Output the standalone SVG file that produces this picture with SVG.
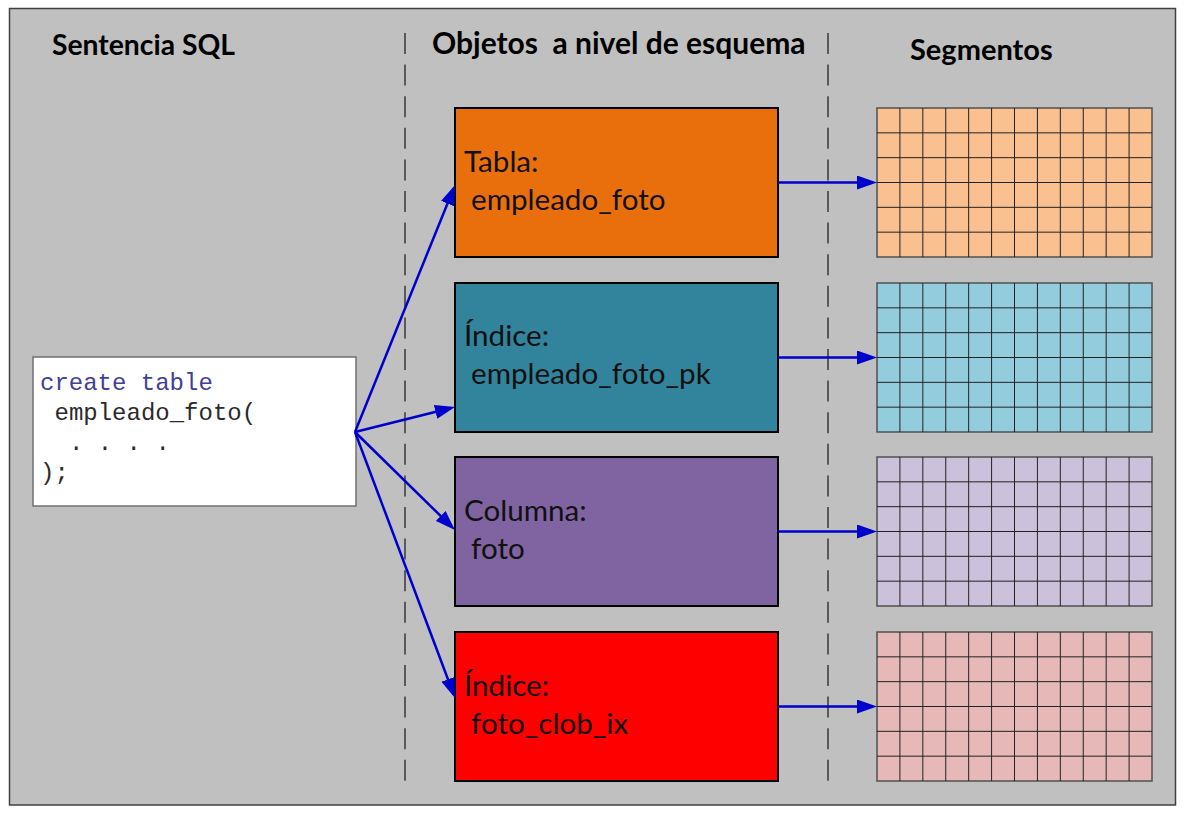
<svg xmlns="http://www.w3.org/2000/svg" xmlns:xlink="http://www.w3.org/1999/xlink" width="1185" height="819" viewBox="0 0 1185 819">
<style>
.hdr{font-family:Lato,"Open Sans","Liberation Sans",sans-serif;font-weight:bold;font-size:28.3px;fill:#000}
.lbl{font-family:Lato,"Open Sans","Liberation Sans",sans-serif;font-size:29.6px;fill:#111}
.code{font-family:"Liberation Mono","DejaVu Sans Mono",monospace;font-size:24px;fill:#2a2a2a}
.kw{fill:#40409a}
.box{stroke:#000;stroke-width:2}
.gridbg{stroke:#505050;stroke-width:1.5}
.gridln{fill:none;stroke:#222;stroke-width:1}
.dash{stroke:#404040;stroke-width:1.6;stroke-dasharray:21 10.6;fill:none}
.arr{stroke:#0000cc;stroke-width:2.5;fill:none;marker-end:url(#ah)}
</style>
<defs>
<marker id="ah" markerUnits="userSpaceOnUse" markerWidth="20" markerHeight="14" refX="16" refY="7" orient="auto" viewBox="0 0 20 14">
<path d="M0,0 L20,7 L0,14 z" fill="#0000cc"/>
</marker>
<path id="gl" class="gridln" d="M22.92,0V149M45.83,0V149M68.75,0V149M91.67,0V149M114.58,0V149M137.5,0V149M160.42,0V149M183.33,0V149M206.25,0V149M229.17,0V149M252.08,0V149M0,24.83H275M0,49.67H275M0,74.5H275M0,99.33H275M0,124.17H275"/>
</defs>
<rect x="9.5" y="8.5" width="1166" height="796.5" fill="#c0c0c0" stroke="#404040" stroke-width="1.5"/>
<g id="headers">
<text class="hdr" x="52" y="55">Sentencia SQL</text>
<text class="hdr" x="432" y="54" style="font-size:30px" xml:space="preserve">Objetos  a nivel de esquema</text>
<text class="hdr" x="910" y="60" style="font-size:29px">Segmentos</text>
</g>
<g id="dividers">
<line class="dash" x1="405" y1="33" x2="405" y2="781"/>
<line class="dash" x1="828" y1="33" x2="828" y2="781"/>
</g>
<g id="sql">
<rect x="33" y="357" width="323" height="149" fill="#fff" stroke="#707070" stroke-width="1.5"/>
<text class="code kw" x="40" y="390">create table</text>
<text class="code" x="54.5" y="420">empleado_foto(</text>
<text class="code" x="69" y="450">. . . .</text>
<text class="code" x="40" y="480">);</text>
</g>
<g id="obj-tabla">
<rect class="box" x="455" y="108" width="323" height="149" fill="#e96f0d"/>
<text class="lbl" x="464" y="172">Tabla:</text>
<text class="lbl" x="471" y="210">empleado_foto</text>
</g>
<g id="obj-indice-pk">
<rect class="box" x="455" y="283" width="323" height="149" fill="#31849b"/>
<text class="lbl" x="464" y="346">Índice:</text>
<text class="lbl" x="471" y="384">empleado_foto_pk</text>
</g>
<g id="obj-columna">
<rect class="box" x="455" y="457" width="323" height="149" fill="#8064a2"/>
<text class="lbl" x="464" y="521">Columna:</text>
<text class="lbl" x="471" y="559">foto</text>
</g>
<g id="obj-indice-clob">
<rect class="box" x="455" y="632" width="323" height="149" fill="#ff0000"/>
<text class="lbl" x="464" y="696">Índice:</text>
<text class="lbl" x="471" y="734">foto_clob_ix</text>
</g>
<g id="seg-1" transform="translate(877,108)">
<rect class="gridbg" width="275" height="149" fill="#fac090"/>
<use xlink:href="#gl"/>
</g>
<g id="seg-2" transform="translate(877,283)">
<rect class="gridbg" width="275" height="149" fill="#93cddd"/>
<use xlink:href="#gl"/>
</g>
<g id="seg-3" transform="translate(877,457)">
<rect class="gridbg" width="275" height="149" fill="#ccc1da"/>
<use xlink:href="#gl"/>
</g>
<g id="seg-4" transform="translate(877,632)">
<rect class="gridbg" width="275" height="149" fill="#e6b9b8"/>
<use xlink:href="#gl"/>
</g>
<g id="connectors">
<line class="arr" x1="355" y1="432" x2="453.5" y2="188.7"/>
<line class="arr" x1="355" y1="432" x2="451.1" y2="408"/>
<line class="arr" x1="355" y1="432" x2="452.1" y2="527.2"/>
<line class="arr" x1="355" y1="432" x2="453.6" y2="694.3"/>
<line class="arr" x1="778" y1="182.5" x2="873" y2="182.5"/>
<line class="arr" x1="778" y1="357.5" x2="873" y2="357.5"/>
<line class="arr" x1="778" y1="531.5" x2="873" y2="531.5"/>
<line class="arr" x1="778" y1="706.5" x2="873" y2="706.5"/>
</g>
</svg>
